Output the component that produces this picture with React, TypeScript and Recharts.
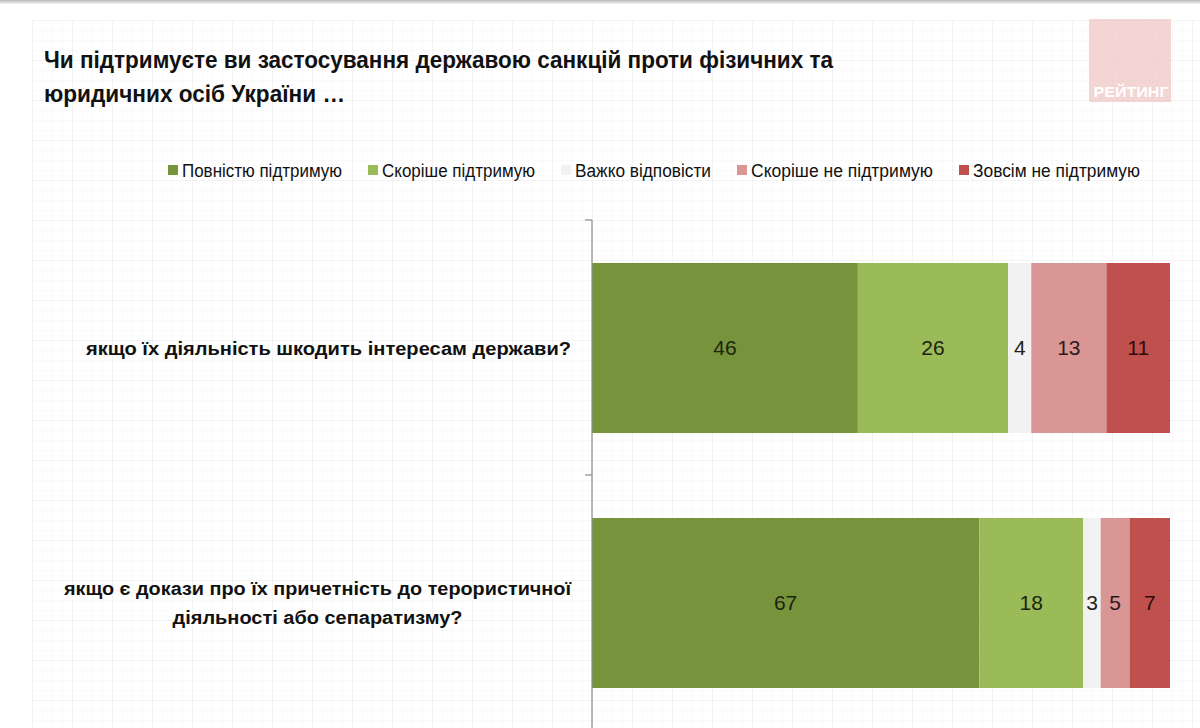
import React from "react";
import { BarChart, Bar, XAxis, YAxis, LabelList } from "recharts";

// ---------- data ----------
const categoryLines: string[][] = [
  ["якщо їх діяльність шкодить інтересам держави?"],
  ["якщо є докази про їх причетність до терористичної", "діяльності або сепаратизму?"],
];
const categories: string[] = categoryLines.map((l) => l.join(" "));

const seriesNames: string[] = [
  "Повністю підтримую",
  "Скоріше підтримую",
  "Важко відповісти",
  "Скоріше не підтримую",
  "Зовсім не підтримую",
];
const fullySupport: number[] = [46, 67];
const ratherSupport: number[] = [26, 18];
const hardToSay: number[] = [4, 3];
const ratherNotSupport: number[] = [13, 5];
const notAtAllSupport: number[] = [11, 7];

const titleLines: string[] = [
  "Чи підтримуєте ви застосування державою санкцій проти фізичних та",
  "юридичних осіб України …",
];
const logoText = "РЕЙТИНГ";

// ---------- styles / layout ----------
const seriesKeys = ["s0", "s1", "s2", "s3", "s4"];
const seriesColors = ["#77933c", "#9bbb59", "#f2f2f2", "#d99694", "#c0504d"];
const labelColors = ["#1c2410", "#1c2410", "#222222", "#2e1a1a", "#300a0a"];
const seriesValues = [fullySupport, ratherSupport, hardToSay, ratherNotSupport, notAtAllSupport];

const data = categories.map((name, i) => {
  const row: Record<string, string | number> = { name };
  seriesKeys.forEach((k, s) => {
    row[k] = seriesValues[s][i];
  });
  return row;
});

const FONT = "'Liberation Sans', Arial, 'DejaVu Sans', sans-serif";
const CATEGORY_LINE_WIDTHS = [[485], [507, 290]];
const LEGEND_TEXT_W = [160, 153, 136, 182, 167];
const LEGEND_GAP = 25;
const LEGEND_X0 = 168;
const TITLE_W = [789, 301];

const CategoryTick = (props: any) => {
  const { x, y, payload } = props;
  const idx = categories.indexOf(payload?.value);
  const lines = idx >= 0 ? categoryLines[idx] : [String(payload?.value)];
  const widths = idx >= 0 ? CATEGORY_LINE_WIDTHS[idx] : [];
  const half =
    payload && typeof payload.offset === "number" && payload.offset > 0 ? payload.offset : 127.5;
  const lineH = 29;
  const startY = y - ((lines.length - 1) * lineH) / 2 + 7;
  const blockW = widths.length ? Math.max(...widths) : 0;
  return (
    <g>
      <line x1={x + 14} x2={x + 21} y1={y - half} y2={y - half} stroke="#8c8c8c" strokeWidth={1.2} />
      {lines.map((l, i) => (
        <text
          key={i}
          x={lines.length > 1 ? x - blockW / 2 : x}
          y={startY + i * lineH}
          textAnchor={lines.length > 1 ? "middle" : "end"}
          fontFamily={FONT}
          fontWeight="bold"
          fontSize={18}
          fill="#111"
          textLength={widths[i]}
          lengthAdjust="spacingAndGlyphs"
        >
          {l}
        </text>
      ))}
    </g>
  );
};

const Overlay = () => {
  let lx = LEGEND_X0;
  const items = seriesNames.map((n, i) => {
    const mx = lx;
    lx += 10 + 5 + LEGEND_TEXT_W[i] + LEGEND_GAP;
    return (
      <g key={n}>
        <rect x={mx} y={165} width={10} height={10} fill={seriesColors[i]} />
        <text
          x={mx + 14}
          y={176.5}
          fontFamily={FONT}
          fontSize={18}
          fill="#111"
          textLength={LEGEND_TEXT_W[i]}
          lengthAdjust="spacingAndGlyphs"
        >
          {n}
        </text>
      </g>
    );
  });
  return (
    <svg
      width={1200}
      height={728}
      style={{ position: "absolute", left: 0, top: 0, pointerEvents: "none" }}
    >
      {titleLines.map((t, i) => (
        <text
          key={i}
          x={44}
          y={68 + i * 34}
          fontFamily={FONT}
          fontWeight="bold"
          fontSize={24}
          fill="#111"
          textLength={TITLE_W[i]}
          lengthAdjust="spacingAndGlyphs"
        >
          {t}
        </text>
      ))}
      <rect x={1089} y={19} width={82} height={83} fill="#eec3c2" opacity={0.7} />
      <text
        x={1131}
        y={97}
        textAnchor="middle"
        fontFamily={FONT}
        fontWeight="bold"
        fontSize={15}
        fill="#ffffff"
        textLength={75}
        lengthAdjust="spacingAndGlyphs"
      >
        {logoText}
      </text>
      {items}
    </svg>
  );
};

export default function App() {
  return (
    <div
      style={{
        position: "absolute",
        left: 0,
        top: 0,
        width: 1200,
        height: 728,
        overflow: "hidden",
        background: "#ffffff",
      }}
    >
      <div
        style={{
          position: "absolute",
          left: 32,
          top: 20,
          right: 0,
          bottom: 0,
          backgroundImage:
            "linear-gradient(to right, #f3f3f3 1px, transparent 1px), linear-gradient(to bottom, #f3f3f3 1px, transparent 1px), linear-gradient(to right, #fafafa 1px, transparent 1px), linear-gradient(to bottom, #fafafa 1px, transparent 1px)",
          backgroundSize: "40px 40px, 40px 40px, 10px 10px, 10px 10px",
        }}
      />
      <div
        style={{
          position: "absolute",
          left: 0,
          top: 0,
          width: 1200,
          height: 4,
          background: "linear-gradient(to bottom, #b8b8b8, #f4f4f4)",
        }}
      />
      <div style={{ position: "absolute", left: 0, top: 0 }}>
        <BarChart
          width={1200}
          height={740}
          data={data}
          layout="vertical"
          margin={{ top: 220, right: 30, bottom: 10, left: 0 }}
          barSize={170}
        >
          <XAxis type="number" domain={[0, 100]} hide />
          <YAxis
            type="category"
            dataKey="name"
            width={592}
            interval={0}
            tickLine={false}
            tickSize={7}
            tickMargin={14}
            axisLine={{ stroke: "#8c8c8c", strokeWidth: 1.2 }}
            tick={(p: any) => <CategoryTick {...p} />}
          />
          {seriesKeys.map((k, i) => (
            <Bar
              key={k}
              dataKey={k}
              name={seriesNames[i]}
              stackId="a"
              fill={seriesColors[i]}
              isAnimationActive={false}
            >
              <LabelList
                dataKey={k}
                position="center"
                fill={labelColors[i]}
                fontSize={21}
                fontFamily={FONT}
              />
            </Bar>
          ))}
        </BarChart>
      </div>
      <Overlay />
    </div>
  );
}
